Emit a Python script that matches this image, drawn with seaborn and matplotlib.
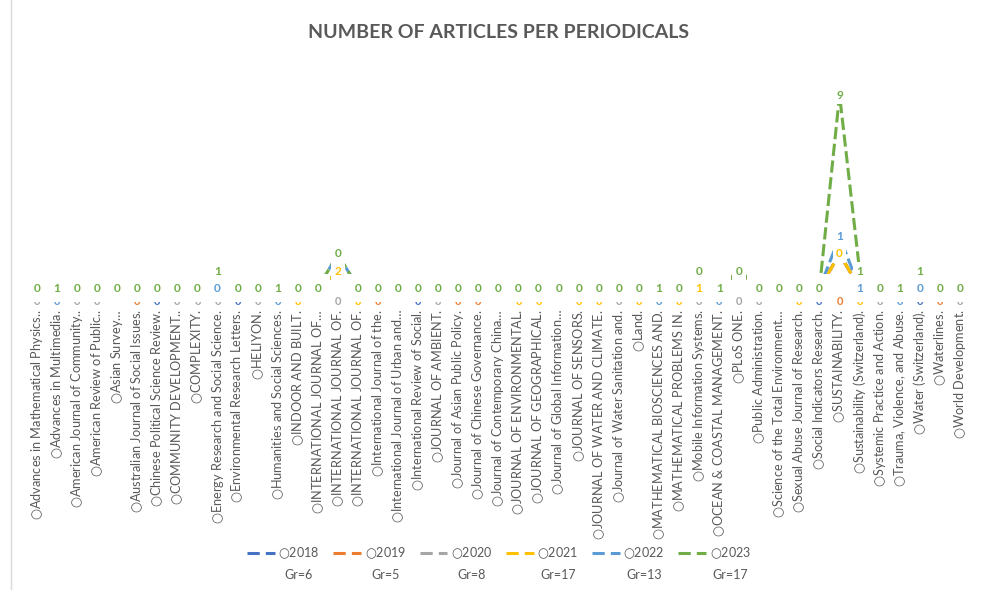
import matplotlib
matplotlib.use("Agg")
import matplotlib.pyplot as plt
from matplotlib.lines import Line2D
import seaborn as sns
import pandas as pd

# periodicals on the category axis (truncated as in the source chart)
journals = [
    "Advances in Mathematical Physics..", "Advances in Multimedia.", "American Journal of Community..",
    "American Review of Public..", "Asian Survey…", "Australian Journal of Social Issues.",
    "Chinese Political Science Review.", "COMMUNITY DEVELOPMENT..", "COMPLEXITY.",
    "Energy Research and Social Science.", "Environmental Research Letters.", "HELIYON.",
    "Humanities and Social Sciences.", "INDOOR AND BUILT.", "INTERNATIONAL JOURNAL OF…",
    "INTERNATIONAL JOURNAL OF.", "INTERNATIONAL JOURNAL OF.", "International Journal of the.",
    "International Journal of Urban and…", "International Review of Social.", "JOURNAL OF AMBIENT.",
    "Journal of Asian Public Policy.", "Journal of Chinese Governance.", "Journal of Contemporary China…",
    "JOURNAL OF ENVIRONMENTAL.", "JOURNAL OF GEOGRAPHICAL.", "Journal of Global Information…",
    "JOURNAL OF SENSORS.", "JOURNAL OF WATER AND CLIMATE.", "Journal of Water Sanitation and.",
    "Land.", "MATHEMATICAL BIOSCIENCES AND.", "MATHEMATICAL PROBLEMS IN.",
    "Mobile Information Systems.", "OCEAN & COASTAL MANAGEMENT.", "PLoS ONE.",
    "Public Administration.", "Science of the Total Environment…", "Sexual Abuse Journal of Research.",
    "Social Indicators Research.", "SUSTAINABILITY.", "Sustainability (Switzerland).",
    "Systemic Practice and Action.", "Trauma, Violence, and Abuse.", "Water (Switzerland).",
    "Waterlines.", "World Development.",
]

years = [2018, 2019, 2020, 2021, 2022, 2023]
group_sizes = [6, 5, 8, 17, 13, 17]
colors = {2018: "#4472C4", 2019: "#ED7D31", 2020: "#A5A5A5",
          2021: "#FFC000", 2022: "#5B9BD5", 2023: "#70AD47"}

# plotted heights of each series (as they sit in the source chart)
v2018 = [0, 0, 0, 0, 0, 0, 0, 0, 0, 0,
         0, 0, 0, 0, 0, 1, 0, 0, 0, 0,
         0, 0, 0, 0, 0, 0, 0, 0, 0, 0,
         0, 0, 0, 0, 0, 1, 0, 0, 0, 0,
         2, 0, 0, 0, 0, 0, 0]
v2019 = [0, 0, 0, 0, 0, 0, 0, 0, 0, 0,
         0, 0, 0, 0, 0, 1, 0, 0, 0, 0,
         0, 0, 0, 0, 0, 0, 0, 0, 0, 0,
         0, 0, 0, 0, 0, 1, 0, 0, 0, 0,
         2, 0, 0, 0, 0, 0, 0]
v2020 = [0, 0, 0, 0, 0, 0, 0, 0, 0, 0,
         0, 0, 0, 0, 0, 1, 0, 0, 0, 0,
         0, 0, 0, 0, 0, 0, 0, 0, 0, 0,
         0, 0, 0, 0, 0, 1, 0, 0, 0, 0,
         2, 0, 0, 0, 0, 0, 0]
v2021 = [0, 0, 0, 0, 0, 0, 0, 0, 0, 0,
         0, 0, 0, 0, 0, 1, 0, 0, 0, 0,
         0, 0, 0, 0, 0, 0, 0, 0, 0, 0,
         0, 0, 0, 0, 0, 1, 0, 0, 0, 0,
         2, 0, 0, 0, 0, 0, 0]
v2022 = [0, 0, 0, 0, 0, 0, 0, 0, 0, 0,
         0, 0, 0, 0, 0, 2, 0, 0, 0, 0,
         0, 0, 0, 0, 0, 0, 0, 0, 0, 0,
         0, 0, 0, 1, 0, 1, 0, 0, 0, 0,
         3, 0, 0, 0, 0, 0, 0]
v2023 = [0, 0, 0, 0, 0, 0, 0, 0, 0, 1,
         0, 0, 0, 0, 0, 2, 0, 0, 0, 0,
         0, 0, 0, 0, 0, 0, 0, 0, 0, 0,
         0, 0, 0, 1, 0, 1, 0, 0, 0, 0,
         11.35, 1, 0, 0, 1, 0, 0]
series = {2018: v2018, 2019: v2019, 2020: v2020, 2021: v2021, 2022: v2022, 2023: v2023}

# labels visible on the zero row: text and the series whose colour shows
row_text = ["0", "1", "0", "0", "0", "0", "0", "0", "0", "0",
            "0", "0", "1", "0", "0", "", "0", "0", "0", "0",
            "0", "0", "0", "0", "0", "0", "0", "0", "0", "0",
            "0", "1", "0", "1", "1", "", "0", "0", "0", "0",
            "", "1", "0", "1", "0", "0", "0"]
row_year = [2023, 2023, 2023, 2023, 2023, 2023, 2023, 2023, 2023, 2022,
            2023, 2023, 2023, 2023, 2023, None, 2023, 2023, 2023, 2023,
            2023, 2023, 2023, 2023, 2023, 2023, 2023, 2023, 2023, 2023,
            2023, 2023, 2023, 2021, 2023, None, 2023, 2023, 2023, 2023,
            None, 2022, 2023, 2023, 2022, 2023, 2023]

# labels on raised points: (category index, series, text)
raised_labels = [(9, 2023, "1"), (15, 2021, "2"), (15, 2023, "0"), (33, 2023, "0"),
                 (35, 2023, "0"), (40, 2021, "0"), (40, 2022, "1"), (40, 2023, "9"),
                 (41, 2023, "1"), (44, 2023, "1")]

# small coloured zero written at the end of each category label
axis_year = [2020, 2022, 2020, 2020, None, 2019, 2018, 2020, 2020, 2020,
             2018, 2020, 2022, 2021, None, 2020, 2021, 2019, None, 2018,
             2020, 2019, 2019, None, 2021, 2021, None, 2021, 2021, 2020,
             2021, 2022, 2021, 2020, 2022, 2020, 2020, None, 2021, 2018,
             2019, 2021, 2020, 2022, 2018, 2019, 2020]

sns.set_theme(style="white")
plt.rcParams["font.family"] = ["Lato", "DejaVu Sans"]
plt.rcParams["mathtext.fontset"] = "dejavusans"
grey = "#595959"
circ = r"$\bigcirc$"

fig = plt.figure(figsize=(9.92, 5.9), dpi=100)
ax = fig.add_axes([0.0272, 0.48305, 0.9506, 0.37458])

pos = list(range(len(journals)))
dash = (0, (4, 1.5))
for yr in years:
    df = pd.DataFrame({"pos": pos, "n": series[yr]})
    sns.lineplot(data=df, x="pos", y="n", color=colors[yr], linewidth=2.2,
                 linestyle=dash, estimator=None, ax=ax, zorder=2)

row_box = dict(boxstyle="square,pad=0.75", fc="white", ec="none")
for i, (t, yr) in enumerate(zip(row_text, row_year)):
    if yr is None or t == "":
        continue
    ax.text(i, 0, t, ha="center", va="center", fontsize=8.5, fontweight="bold",
            color=colors[yr], bbox=row_box, zorder=5)

pt_box = dict(boxstyle="square,pad=0.3", fc="white", ec="none")
for i, yr, t in raised_labels:
    ax.text(i, series[yr][i], t, ha="center", va="center", fontsize=8.5,
            fontweight="bold", color=colors[yr], bbox=pt_box, zorder=6)

for i, yr in enumerate(axis_year):
    if yr is None:
        continue
    ax.annotate("0", xy=(i, 0), xytext=(0, -9.5), textcoords="offset points",
                ha="center", va="center", fontsize=8, fontweight="bold",
                color=colors[yr], zorder=4)

ax.set_xlim(-0.5, len(journals) - 0.5)
ax.set_ylim(-1, 12)
ax.set_xticks(pos)
ax.set_xticklabels([circ + j for j in journals], rotation=90, fontsize=9.2, color=grey)
ax.tick_params(axis="x", length=0, pad=3)
ax.set_yticks([])
ax.set_xlabel("")
ax.set_ylabel("")
for s in ax.spines.values():
    s.set_visible(False)

fig.text(0.503, 1 - 33 / 590, "NUMBER OF ARTICLES PER PERIODICALS", ha="center",
         va="center", fontsize=14, fontweight="bold", color=grey)

handles = [Line2D([], [], color=colors[yr], linewidth=2.2, linestyle=(0, (4, 2)))
           for yr in years]
leg = fig.legend(handles, [circ + str(yr) for yr in years], loc="center",
                 bbox_to_anchor=(0.503, 1 - 553 / 590), ncol=6, frameon=False,
                 fontsize=9, handlelength=2.2, handletextpad=0.3, columnspacing=1.1,
                 labelcolor=grey)

fig.canvas.draw()
W = fig.bbox.width
for t, n in zip(leg.get_texts(), group_sizes):
    bb = t.get_window_extent()
    fig.text((bb.x0 + bb.x1) / 2 / W, 1 - 575 / 590, f"Gr={n}", ha="center",
             va="center", fontsize=9, color=grey)

fig.add_artist(Line2D([11 / 992, 11 / 992], [0, 1], color="#D9D9D9", linewidth=1))

fig.savefig("out.png", dpi=100)
